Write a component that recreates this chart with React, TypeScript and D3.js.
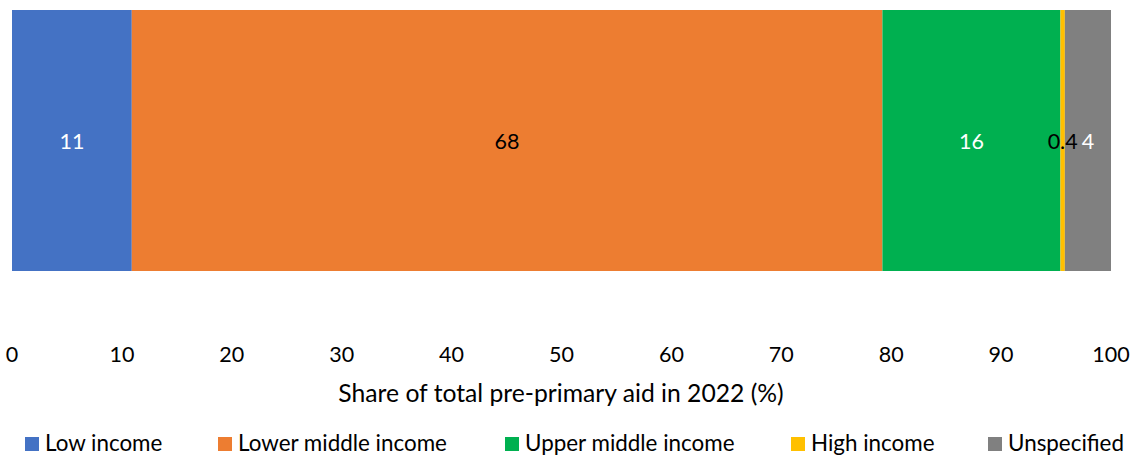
import React from "react";
import * as d3 from "d3";

const categories = ["Low income", "Lower middle income", "Upper middle income", "High income", "Unspecified"];
const values = [10.9, 68.3, 16.2, 0.4, 4.2];
const colors = ["#4472C4", "#ED7D31", "#00B050", "#FFC000", "#808080"];
const labelColors = ["#ffffff", "#000000", "#ffffff", "#000000", "#ffffff"];
const ticks = [0, 10, 20, 30, 40, 50, 60, 70, 80, 90, 100];
const axisTitle = "Share of total pre-primary aid in 2022 (%)";
const legendX = [25, 218, 505, 791, 988];

const W = 1136;
const H = 459;
const FONT = "Lato, 'Open Sans', sans-serif";

export default function App() {
  const x = d3.scaleLinear().domain([0, 100]).range([12, 1111]);
  const starts = values.map((_, i) => d3.sum(values.slice(0, i)));
  const barTop = 10;
  const barH = 261;
  const fmt = (v: number) => (v < 1 ? v.toFixed(1) : String(Math.round(v)));
  return (
    <svg width={W} height={H} style={{ position: "absolute", left: 0, top: 0, background: "#fff" }} fontFamily={FONT}>
      {values.map((v, i) => (
        <rect key={i} x={x(starts[i])} y={barTop} width={x(starts[i] + v) - x(starts[i])} height={barH} fill={colors[i]} />
      ))}
      {values.map((v, i) => (
        <text key={"l" + i} x={x(starts[i] + v / 2)} y={149} textAnchor="middle" fontSize={21.5} fill={labelColors[i]}>
          {fmt(v)}
        </text>
      ))}
      {ticks.map((t) => (
        <text key={t} x={x(t)} y={362} textAnchor="middle" fontSize={21.5} fill="#000">
          {t}
        </text>
      ))}
      <text x={561} y={402} textAnchor="middle" fontSize={24.7} fill="#000">
        {axisTitle}
      </text>
      {categories.map((c, i) => (
        <g key={c}>
          <rect x={legendX[i]} y={437} width={14} height={14} fill={colors[i]} />
          <text x={legendX[i] + 20} y={451} fontSize={22.4} fill="#000">
            {c}
          </text>
        </g>
      ))}
    </svg>
  );
}
